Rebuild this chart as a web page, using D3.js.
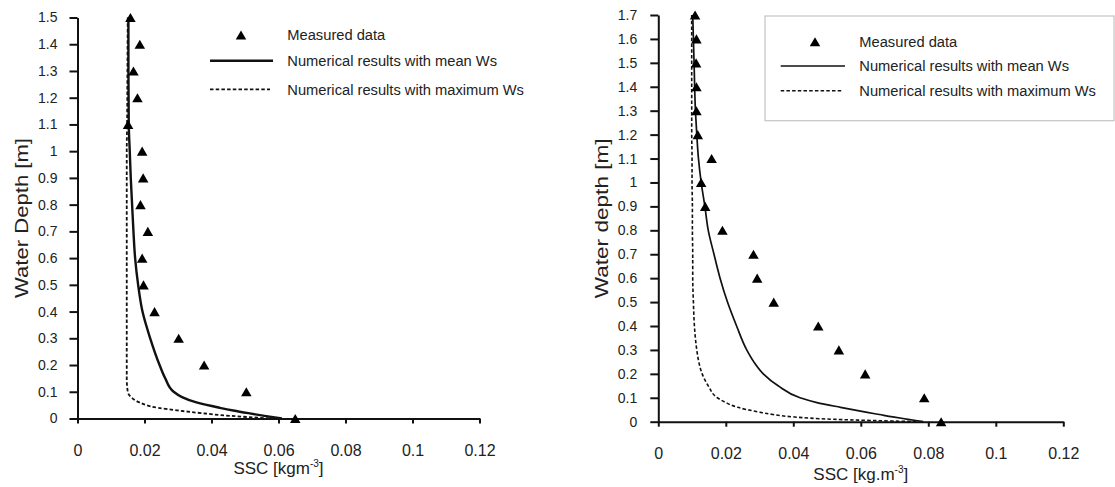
<!DOCTYPE html>
<html><head><meta charset="utf-8">
<script src="https://cdn.jsdelivr.net/npm/d3@7"></script>
<style>
body{margin:0;background:#fff}
svg{display:block;font-family:"Liberation Sans",Arial,sans-serif}
</style>
</head><body>
<svg id="c" width="1115" height="487"></svg>
<script>
// ---------- shared ticks ----------
const xTicks = [0, 0.02, 0.04, 0.06, 0.08, 0.1, 0.12];
const xTickLabels = ["0", "0.02", "0.04", "0.06", "0.08", "0.1", "0.12"];

// ---------- left panel ----------
const leftYTicks = [0,0.1,0.2,0.3,0.4,0.5,0.6,0.7,0.8,0.9,1.0,1.1,1.2,1.3,1.4,1.5];
const leftYTickLabels = ["0","0.1","0.2","0.3","0.4","0.5","0.6","0.7","0.8","0.9","1","1.1","1.2","1.3","1.4","1.5"];
const leftMeasuredDepth = [1.5,1.4,1.3,1.2,1.1,1.0,0.9,0.8,0.7,0.6,0.5,0.4,0.3,0.2,0.1,0.0];
const leftMeasuredSSC = [0.0158,0.0186,0.0167,0.0179,0.0151,0.0193,0.0196,0.0188,0.0210,0.0193,0.0197,0.0230,0.0302,0.0378,0.0504,0.0650];
const leftModelDepth = [1.5,1.3,1.1,1.0,0.9,0.8,0.7,0.6,0.5,0.4,0.3,0.2,0.15,0.1,0.08,0.06,0.04,0.03,0.02,0.01,0.0];
const leftMeanSSC = [0.0152,0.0152,0.0153,0.0156,0.0159,0.0163,0.0167,0.0172,0.0181,0.0194,0.0217,0.0245,0.0262,0.0287,0.0312,0.0355,0.0425,0.0465,0.0510,0.0558,0.0610];
const leftMaxSSC = [0.0150,0.0149,0.0148,0.0147,0.0147,0.0147,0.0147,0.0147,0.0147,0.0147,0.0147,0.0147,0.0147,0.0150,0.0160,0.0185,0.0240,0.0300,0.0370,0.0455,0.0580];

// ---------- right panel ----------
const rightYTicks = [0,0.1,0.2,0.3,0.4,0.5,0.6,0.7,0.8,0.9,1.0,1.1,1.2,1.3,1.4,1.5,1.6,1.7];
const rightYTickLabels = ["0","0.1","0.2","0.3","0.4","0.5","0.6","0.7","0.8","0.9","1","1.1","1.2","1.3","1.4","1.5","1.6","1.7"];
const rightMeasuredDepth = [1.7,1.6,1.5,1.4,1.3,1.2,1.1,1.0,0.9,0.8,0.7,0.6,0.5,0.4,0.3,0.2,0.1,0.0];
const rightMeasuredSSC = [0.0109,0.0113,0.0112,0.0113,0.0113,0.0117,0.0158,0.0127,0.0139,0.0190,0.0282,0.0293,0.0342,0.0474,0.0535,0.0613,0.0788,0.0838];
const rightModelDepth = [1.7,1.5,1.3,1.2,1.1,1.0,0.9,0.8,0.7,0.6,0.5,0.4,0.3,0.25,0.2,0.15,0.1,0.08,0.06,0.04,0.03,0.02,0.01,0.0];
const rightMeanSSC = [0.0102,0.0106,0.0110,0.0114,0.0119,0.0127,0.0138,0.0148,0.0165,0.0183,0.0205,0.0232,0.0262,0.0283,0.0311,0.0355,0.0420,0.0470,0.0540,0.0615,0.0655,0.0695,0.0740,0.0785];
const rightMaxSSC = [0.0099,0.0099,0.0099,0.0099,0.0100,0.0100,0.0101,0.0101,0.0102,0.0102,0.0104,0.0107,0.0114,0.0120,0.0130,0.0148,0.0175,0.0200,0.0235,0.0300,0.0340,0.0400,0.0520,0.0770];

const legendLabels = ["Measured data", "Numerical results with mean Ws", "Numerical results with maximum Ws"];

const svg = d3.select("#c");
const TRI = 48;
const triSide = Math.sqrt(TRI * 4 / Math.sqrt(3));
const triShift = triSide * Math.sqrt(3) / 2 / 6;
const tri = d3.symbol().type(d3.symbolTriangle).size(TRI);

function panel(o) {
  const x = d3.scaleLinear().domain([0, 0.12]).range([o.x0, o.x1]);
  const y = d3.scaleLinear().domain([0, o.yMax]).range([o.y0, o.y1]);
  const g = svg.append("g");

  // y axis
  const ya = g.append("g").attr("transform", `translate(${o.x0},0)`)
    .call(d3.axisLeft(y).tickValues(o.yTicks).tickFormat((d, i) => o.yTickLabels[i])
      .tickSize(8).tickSizeOuter(0).tickPadding(o.yPad));
  ya.selectAll("text").attr("font-size", 14).attr("fill", "#222").attr("font-family", "Liberation Sans, Arial, sans-serif");
  // x axis
  const xa = g.append("g").attr("transform", `translate(0,${o.y0})`)
    .call(d3.axisBottom(x).tickValues(xTicks).tickFormat((d, i) => xTickLabels[i])
      .tickSize(5).tickSizeOuter(0));
  xa.selectAll("text").attr("font-size", 16).attr("fill", "#222").attr("y", o.xLabY).attr("dy", 0)
    .attr("font-family", "Liberation Sans, Arial, sans-serif");
  [ya, xa].forEach(a => {
    a.select(".domain").attr("stroke", "#111").attr("stroke-width", 2);
    a.selectAll(".tick line").attr("stroke", "#111").attr("stroke-width", 2);
  });

  // curves
  const line = d3.line().x(d => x(d[1])).y(d => y(d[0])).curve(d3.curveMonotoneY);
  g.append("path").datum(o.modelDepth.map((d, i) => [d, o.maxSSC[i]]))
    .attr("d", line).attr("fill", "none").attr("stroke", "#111")
    .attr("stroke-width", o.dashW).attr("stroke-dasharray", "3.5,2.2");
  g.append("path").datum(o.modelDepth.map((d, i) => [d, o.meanSSC[i]]))
    .attr("d", line).attr("fill", "none").attr("stroke", "#111")
    .attr("stroke-width", o.solidW);

  // measured
  g.selectAll("path.tri").data(o.measDepth.map((d, i) => [d, o.measSSC[i]])).join("path")
    .attr("class", "tri").attr("d", tri).attr("fill", "#000")
    .attr("transform", d => `translate(${x(d[1])},${y(d[0]) + triShift})`);

  // titles
  const xt = g.append("text").attr("x", (o.x0 + o.x1) / 2).attr("y", o.xTitleY)
    .attr("text-anchor", "middle").attr("font-size", 17).attr("fill", "#222");
  xt.append("tspan").text(o.xTitleA);
  xt.append("tspan").text("-3").attr("font-size", 10).attr("dy", -7);
  xt.append("tspan").text("]").attr("dy", 7);

  g.append("text").attr("transform", `translate(${o.yTitleX},${(o.y0 + o.y1) / 2}) rotate(-90)`)
    .attr("text-anchor", "middle").attr("dy", "0.35em").attr("font-size", 18).attr("fill", "#222")
    .attr("textLength", 160).attr("lengthAdjust", "spacingAndGlyphs")
    .text(o.yTitle);

  // legend
  const L = o.leg;
  if (L.box) {
    g.append("rect").attr("x", L.box[0]).attr("y", L.box[1]).attr("width", L.box[2]).attr("height", L.box[3])
      .attr("fill", "#fff").attr("stroke", "#c4c4c4").attr("stroke-width", 1.2);
  }
  g.append("path").attr("d", tri).attr("fill", "#000")
    .attr("transform", `translate(${L.triX},${L.rows[0] + triShift})`);
  g.append("line").attr("x1", L.lx0).attr("x2", L.lx1).attr("y1", L.rows[1]).attr("y2", L.rows[1])
    .attr("stroke", "#111").attr("stroke-width", o.solidW);
  g.append("line").attr("x1", L.lx0).attr("x2", L.lx1 - 3).attr("y1", L.rows[2]).attr("y2", L.rows[2])
    .attr("stroke", "#111").attr("stroke-width", o.dashW).attr("stroke-dasharray", "3.5,2.2");
  legendLabels.forEach((t, i) => {
    g.append("text").attr("x", L.tx).attr("y", L.rows[i]).attr("dy", "0.36em")
      .attr("font-size", 14.7).attr("fill", "#222").text(t);
  });
}

panel({
  x0: 77.5, x1: 479.5, y0: 418.5, y1: 17.5, yMax: 1.5,
  yTicks: leftYTicks, yTickLabels: leftYTickLabels, yPad: 12,
  measDepth: leftMeasuredDepth, measSSC: leftMeasuredSSC,
  modelDepth: leftModelDepth, meanSSC: leftMeanSSC, maxSSC: leftMaxSSC,
  solidW: 2.4, dashW: 1.8, xLabY: 37.5, xTitleY: 474,
  xTitleA: "SSC [kgm", yTitle: "Water Depth [m]", yTitleX: 22,
  leg: { box: null, triX: 241, lx0: 210, lx1: 273, tx: 287.3, rows: [35, 60.7, 89.3] }
});

panel({
  x0: 658.3, x1: 1063.3, y0: 421.7, y1: 15, yMax: 1.7,
  yTicks: rightYTicks, yTickLabels: rightYTickLabels, yPad: 13,
  measDepth: rightMeasuredDepth, measSSC: rightMeasuredSSC,
  modelDepth: rightModelDepth, meanSSC: rightMeanSSC, maxSSC: rightMaxSSC,
  solidW: 1.7, dashW: 1.6, xLabY: 37.6, xTitleY: 480,
  xTitleA: "SSC [kg.m", yTitle: "Water depth [m]", yTitleX: 601.7,
  leg: { box: [765, 16, 349, 104.7], triX: 815, lx0: 780.7, lx1: 845, tx: 859.3, rows: [41.7, 66, 90.7] }
});
</script>
</body></html>
